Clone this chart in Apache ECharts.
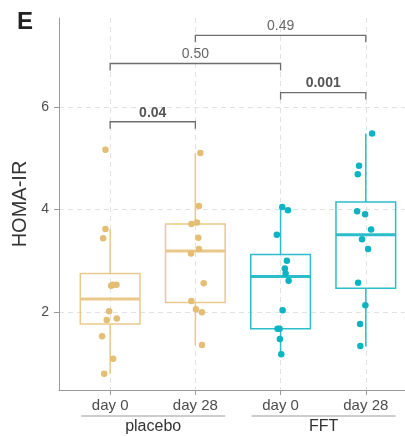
<!DOCTYPE html>
<html>
<head>
<meta charset="utf-8">
<script src="https://cdn.jsdelivr.net/npm/echarts@6/dist/echarts.min.js"></script>
<style>
html, body { margin: 0; padding: 0; background: #fff; }
#chart_1 { width: 405px; height: 436px; }
</style>
</head>
<body>
<div id="chart_1"></div>
<script>
const GRUPOS = ['placebo', 'FFT'];
const DIAS = ['day 0', 'day 28', 'day 0', 'day 28'];
const TICKS_X = [0, 1, 2, 3];
const TICKS_Y = [2, 4, 6];

// cajas: [min bigote, Q1, mediana, Q3, max bigote]
const caja_placebo_d0 = [0.79, 1.76, 2.25, 2.75, 3.62];
const caja_placebo_d28 = [1.35, 2.18, 3.19, 3.72, 5.10];
const caja_fft_d0 = [1.17, 1.67, 2.69, 3.12, 4.07];
const caja_fft_d28 = [1.32, 2.46, 3.51, 4.15, 5.49];

// puntos: [desplazamiento x (jitter), HOMA-IR]
const puntos_placebo_d0 = [[-0.055, 5.17], [-0.055, 3.62], [-0.082, 3.44], [0.012, 2.51], [0.031, 2.53],
  [0.074, 2.53], [-0.012, 2.01], [-0.04, 1.84], [0.078, 1.87], [-0.094, 1.52], [0.035, 1.08], [-0.07, 0.79]];
const puntos_placebo_d28 = [[0.059, 5.11], [0.042, 4.07], [-0.047, 3.72], [0.019, 3.75], [0.035, 3.45],
  [0.042, 3.23], [-0.052, 3.14], [0.098, 2.56], [-0.047, 2.21], [0.007, 2.05], [0.078, 1.99], [0.078, 1.35]];
const puntos_fft_d0 = [[0.02, 4.05], [0.086, 3.99], [-0.044, 3.51], [0.074, 3.0], [0.05, 2.85],
  [0.059, 2.75], [0.094, 2.61], [0.024, 2.03], [-0.035, 1.67], [-0.012, 1.67], [-0.008, 1.47], [0.008, 1.17]];
const puntos_fft_d28 = [[0.074, 5.49], [-0.079, 4.86], [-0.094, 4.69], [-0.102, 3.97], [-0.008, 3.91],
  [0.062, 3.61], [-0.044, 3.42], [0.027, 3.23], [-0.09, 2.57], [-0.005, 2.13], [-0.067, 1.76], [-0.064, 1.33]];

// comparaciones: [caja 1, caja 2, altura, p, negrita]
const comparaciones = [
  [0, 1, 5.72, '0.04', true],
  [2, 3, 6.29, '0.001', true],
  [0, 2, 6.86, '0.50', false],
  [1, 3, 7.41, '0.49', false]
];

// subrayado de grupos: [x inicio, x fin]
const tramos_grupo = [[-0.34, 1.35], [1.66, 3.35]];

const Y_MIN = 0.47;
const Y_MAX = 7.75;
const ANCHO_CAJA = 0.7;
const COLOR_PUNTO = ['#E3BE74', '#0BB3C3'];
const COLOR_CAJA = ['#E9C98A', '#2CBDCB'];
const FUENTE = 'Liberation Sans';

const cajas = [caja_placebo_d0, caja_placebo_d28, caja_fft_d0, caja_fft_d28];
const puntos = [puntos_placebo_d0, puntos_placebo_d28, puntos_fft_d0, puntos_fft_d28];

function dibujarCaja(params, api) {
  const x = api.value(0);
  const ancho = api.size([ANCHO_CAJA, 0])[0];
  const pMin = api.coord([x, api.value(1)]);
  const pQ1 = api.coord([x, api.value(2)]);
  const pMed = api.coord([x, api.value(3)]);
  const pQ3 = api.coord([x, api.value(4)]);
  const pMax = api.coord([x, api.value(5)]);
  const color = COLOR_CAJA[params.dataIndex < 2 ? 0 : 1];
  const estilo = { stroke: color, lineWidth: 1.5, fill: null };
  return {
    type: 'group',
    children: [
      { type: 'line', shape: { x1: pMax[0], y1: pMax[1], x2: pQ3[0], y2: pQ3[1] }, style: estilo },
      { type: 'line', shape: { x1: pQ1[0], y1: pQ1[1], x2: pMin[0], y2: pMin[1] }, style: estilo },
      { type: 'rect', shape: { x: pQ3[0] - ancho / 2, y: pQ3[1], width: ancho, height: pQ1[1] - pQ3[1] },
        style: { stroke: color, lineWidth: 1.5, fill: 'rgba(0,0,0,0)' } },
      { type: 'line', shape: { x1: pMed[0] - ancho / 2, y1: pMed[1], x2: pMed[0] + ancho / 2, y2: pMed[1] },
        style: { stroke: color, lineWidth: 3 } }
    ]
  };
}

function dibujarComparacion(params, api) {
  const c = comparaciones[params.dataIndex];
  const a = api.coord([c[0], c[2]]);
  const b = api.coord([c[1], c[2]]);
  const estilo = { stroke: '#6e6e6e', lineWidth: 1.3, fill: null };
  return {
    type: 'group',
    children: [
      { type: 'polyline', shape: { points: [[a[0], a[1] + 7], a, b, [b[0], b[1] + 7]] }, style: estilo },
      { type: 'text', style: {
          text: c[3], x: (a[0] + b[0]) / 2, y: a[1] - 2, align: 'center', verticalAlign: 'bottom',
          fontSize: 14, fontFamily: FUENTE, fontWeight: c[4] ? 'bold' : 'normal',
          fill: c[4] ? '#555555' : '#666666'
      } }
    ]
  };
}

function dibujarGrupo(params, api) {
  const t = tramos_grupo[params.dataIndex];
  const a = api.coord([t[0], Y_MIN]);
  const b = api.coord([t[1], Y_MIN]);
  return {
    type: 'group',
    children: [
      { type: 'line', shape: { x1: a[0], y1: a[1] + 26, x2: b[0], y2: b[1] + 26 },
        style: { stroke: '#9a9a9a', lineWidth: 1 } },
      { type: 'text', style: {
          text: GRUPOS[params.dataIndex], x: (a[0] + b[0]) / 2, y: a[1] + 37,
          align: 'center', verticalAlign: 'middle', fontSize: 16, fontFamily: FUENTE, fill: '#333333'
      } }
    ]
  };
}

const series = [{
  type: 'custom',
  renderItem: dibujarCaja,
  encode: { x: 0, y: [1, 2, 3, 4, 5] },
  data: cajas.map((c, i) => [i].concat(c)),
  z: 2,
  silent: true
}];

puntos.forEach((lista, i) => {
  series.push({
    type: 'scatter',
    data: lista.map(p => [i + p[0], p[1]]),
    symbolSize: 6.5,
    itemStyle: { color: COLOR_PUNTO[i < 2 ? 0 : 1], opacity: 1 },
    z: 4,
    silent: true
  });
});

series.push({
  type: 'custom',
  renderItem: dibujarComparacion,
  encode: { x: [0, 1], y: 2 },
  data: comparaciones.map(c => [c[0], c[1], c[2]]),
  clip: false,
  z: 5,
  silent: true
});

series.push({
  type: 'custom',
  renderItem: dibujarGrupo,
  encode: { x: [0, 1] },
  data: tramos_grupo,
  clip: false,
  z: 5,
  silent: true
});

const lineaEje = { show: true, onZero: false, lineStyle: { color: '#9a9a9a', width: 1 } };
const rejilla = { show: true, lineStyle: { color: '#e2e2e2', width: 1, type: [5, 4] } };

const option = {
  animation: false,
  textStyle: { fontFamily: FUENTE },
  title: {
    text: 'E', left: 12, top: 5,
    textStyle: { fontSize: 24, fontWeight: 'bold', color: '#222222', fontFamily: FUENTE }
  },
  grid: { left: 59, right: 0, top: 18, bottom: 46, containLabel: false },
  xAxis: {
    type: 'value',
    min: -0.6,
    max: 3.46,
    axisLine: lineaEje,
    axisTick: { show: true, customValues: TICKS_X, length: 5, lineStyle: { color: '#9a9a9a' } },
    axisLabel: {
      customValues: TICKS_X,
      formatter: v => DIAS[Math.round(v)],
      fontSize: 15, color: '#4d4d4d', margin: 8, fontFamily: FUENTE
    },
    splitLine: rejilla
  },
  yAxis: {
    type: 'value',
    min: Y_MIN,
    max: Y_MAX,
    name: 'HOMA-IR',
    nameLocation: 'middle',
    nameRotate: 90,
    nameGap: 27,
    nameTextStyle: { fontSize: 20, color: '#333333', fontFamily: FUENTE },
    axisLine: lineaEje,
    axisTick: { show: true, customValues: TICKS_Y, length: 5, lineStyle: { color: '#9a9a9a' } },
    axisLabel: { customValues: TICKS_Y, fontSize: 14, color: '#4d4d4d', margin: 10, fontFamily: FUENTE },
    splitLine: rejilla
  },
  series: series
};

var myChart = echarts.init(document.getElementById('chart_1'));
myChart.setOption(option);
</script>
</body>
</html>
